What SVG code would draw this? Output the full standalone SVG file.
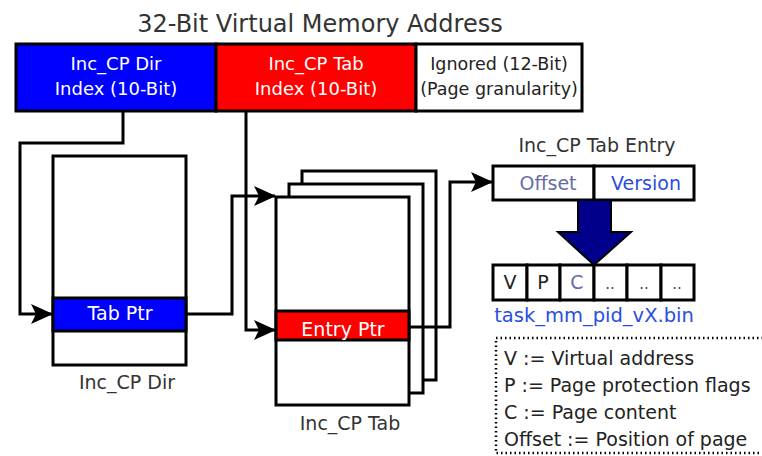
<svg xmlns="http://www.w3.org/2000/svg" width="762" height="456" viewBox="0 0 762 456">
<defs>
<marker id="ah" markerWidth="22" markerHeight="20" refX="21" refY="10" orient="auto" markerUnits="userSpaceOnUse">
<path d="M0,0 L22,10 L0,20 L5,10 Z" fill="#000"/>
</marker>
<style>
text{font-family:"DejaVu Sans",sans-serif;}
.box{stroke:#000;stroke-width:3;}
.w{fill:#fff;}
.lbl{font-size:19px;fill:#333;text-anchor:middle;}
.in{font-size:18px;fill:#fff;text-anchor:middle;}
.ptr{font-size:19px;fill:#fff;text-anchor:middle;}
.conn{fill:none;stroke:#000;stroke-width:3;}
.cell{fill:#fff;stroke:#000;stroke-width:3;}
.leg{font-size:19px;fill:#222;}
.ct{font-size:19px;text-anchor:middle;}
</style>
</defs>
<text x="320" y="32" style="font-size:24px;fill:#333;text-anchor:middle">32-Bit Virtual Memory Address</text>
<g id="address">
<rect x="16" y="44" width="200" height="67" fill="#0000ff" class="box"/>
<rect x="216" y="44" width="200" height="67" fill="#ff0000" class="box"/>
<rect x="416" y="44" width="166" height="67" class="box w"/>
<text x="116" y="70" class="in">Inc_CP Dir</text>
<text x="116" y="95" class="in">Index (10-Bit)</text>
<text x="316" y="70" class="in">Inc_CP Tab</text>
<text x="316" y="95" class="in">Index (10-Bit)</text>
<text x="499" y="70" style="font-size:17.5px;fill:#222;text-anchor:middle">Ignored (12-Bit)</text>
<text x="499" y="95" style="font-size:17.5px;fill:#222;text-anchor:middle">(Page granularity)</text>
</g>
<g id="dir">
<rect x="53" y="156" width="133" height="209" class="box w"/>
<rect x="53" y="298" width="133" height="33" fill="#0000ff" class="box"/>
<text x="120" y="320" class="ptr">Tab Ptr</text>
<text x="127" y="389" class="lbl">Inc_CP Dir</text>
</g>
<g id="tab">
<rect x="302" y="171" width="134" height="209" class="box w"/>
<rect x="289" y="184" width="134" height="209" class="box w"/>
<rect x="276" y="197" width="133" height="208" class="box w"/>
<rect x="276" y="311" width="133" height="29" fill="#ff0000" class="box"/>
<text x="343" y="336" class="ptr">Entry Ptr</text>
<text x="350" y="430" class="lbl">Inc_CP Tab</text>
</g>
<g id="entry">
<text x="597" y="152" class="lbl">Inc_CP Tab Entry</text>
<rect x="493" y="166" width="101" height="34" class="cell"/>
<rect x="594" y="166" width="100" height="34" class="cell"/>
<text x="548" y="190" class="ct" style="fill:#6a6aaa">Offset</text>
<text x="646" y="190" class="ct" style="fill:#2a4ee0">Version</text>
</g>
<g id="bigarrow">
<path d="M578,200 L611,200 L611,232 L631,232 L594,265 L558,232 L578,232 Z" fill="#00008b" stroke="#000" stroke-width="2"/>
</g>
<g id="file">
<rect x="493" y="265" width="34" height="35" class="cell"/>
<rect x="527" y="265" width="33" height="35" class="cell"/>
<rect x="560" y="265" width="34" height="35" class="cell"/>
<rect x="594" y="265" width="33" height="35" class="cell"/>
<rect x="627" y="265" width="34" height="35" class="cell"/>
<rect x="661" y="265" width="33" height="35" class="cell"/>
<text x="510" y="289" class="ct" style="fill:#222">V</text>
<text x="543" y="289" class="ct" style="fill:#222">P</text>
<text x="577" y="289" class="ct" style="fill:#6a6aaa">C</text>
<text x="610" y="289" class="ct" style="font-size:15px;fill:#444">..</text>
<text x="644" y="289" class="ct" style="font-size:15px;fill:#444">..</text>
<text x="677" y="289" class="ct" style="font-size:15px;fill:#444">..</text>
<text x="594" y="322" class="ct" style="font-size:19.5px;fill:#2a4ee0">task_mm_pid_vX.bin</text>
</g>
<g id="legend">
<rect x="496" y="338" width="290" height="115" fill="none" stroke="#000" stroke-width="2.5" stroke-dasharray="1.5,3"/>
<text x="504" y="365" class="leg">V := Virtual address</text>
<text x="504" y="392" class="leg">P := Page protection flags</text>
<text x="504" y="419" class="leg">C := Page content</text>
<text x="504" y="446" class="leg">Offset := Position of page</text>
</g>
<g id="connectors">
<path d="M123,111 V143 H20 V314 H52" class="conn" marker-end="url(#ah)"/>
<path d="M187,314 H232 V196 H275" class="conn" marker-end="url(#ah)"/>
<path d="M246,111 V330 H275" class="conn" marker-end="url(#ah)"/>
<path d="M409,327 H450 V182 H492" class="conn" marker-end="url(#ah)"/>
</g>
</svg>
